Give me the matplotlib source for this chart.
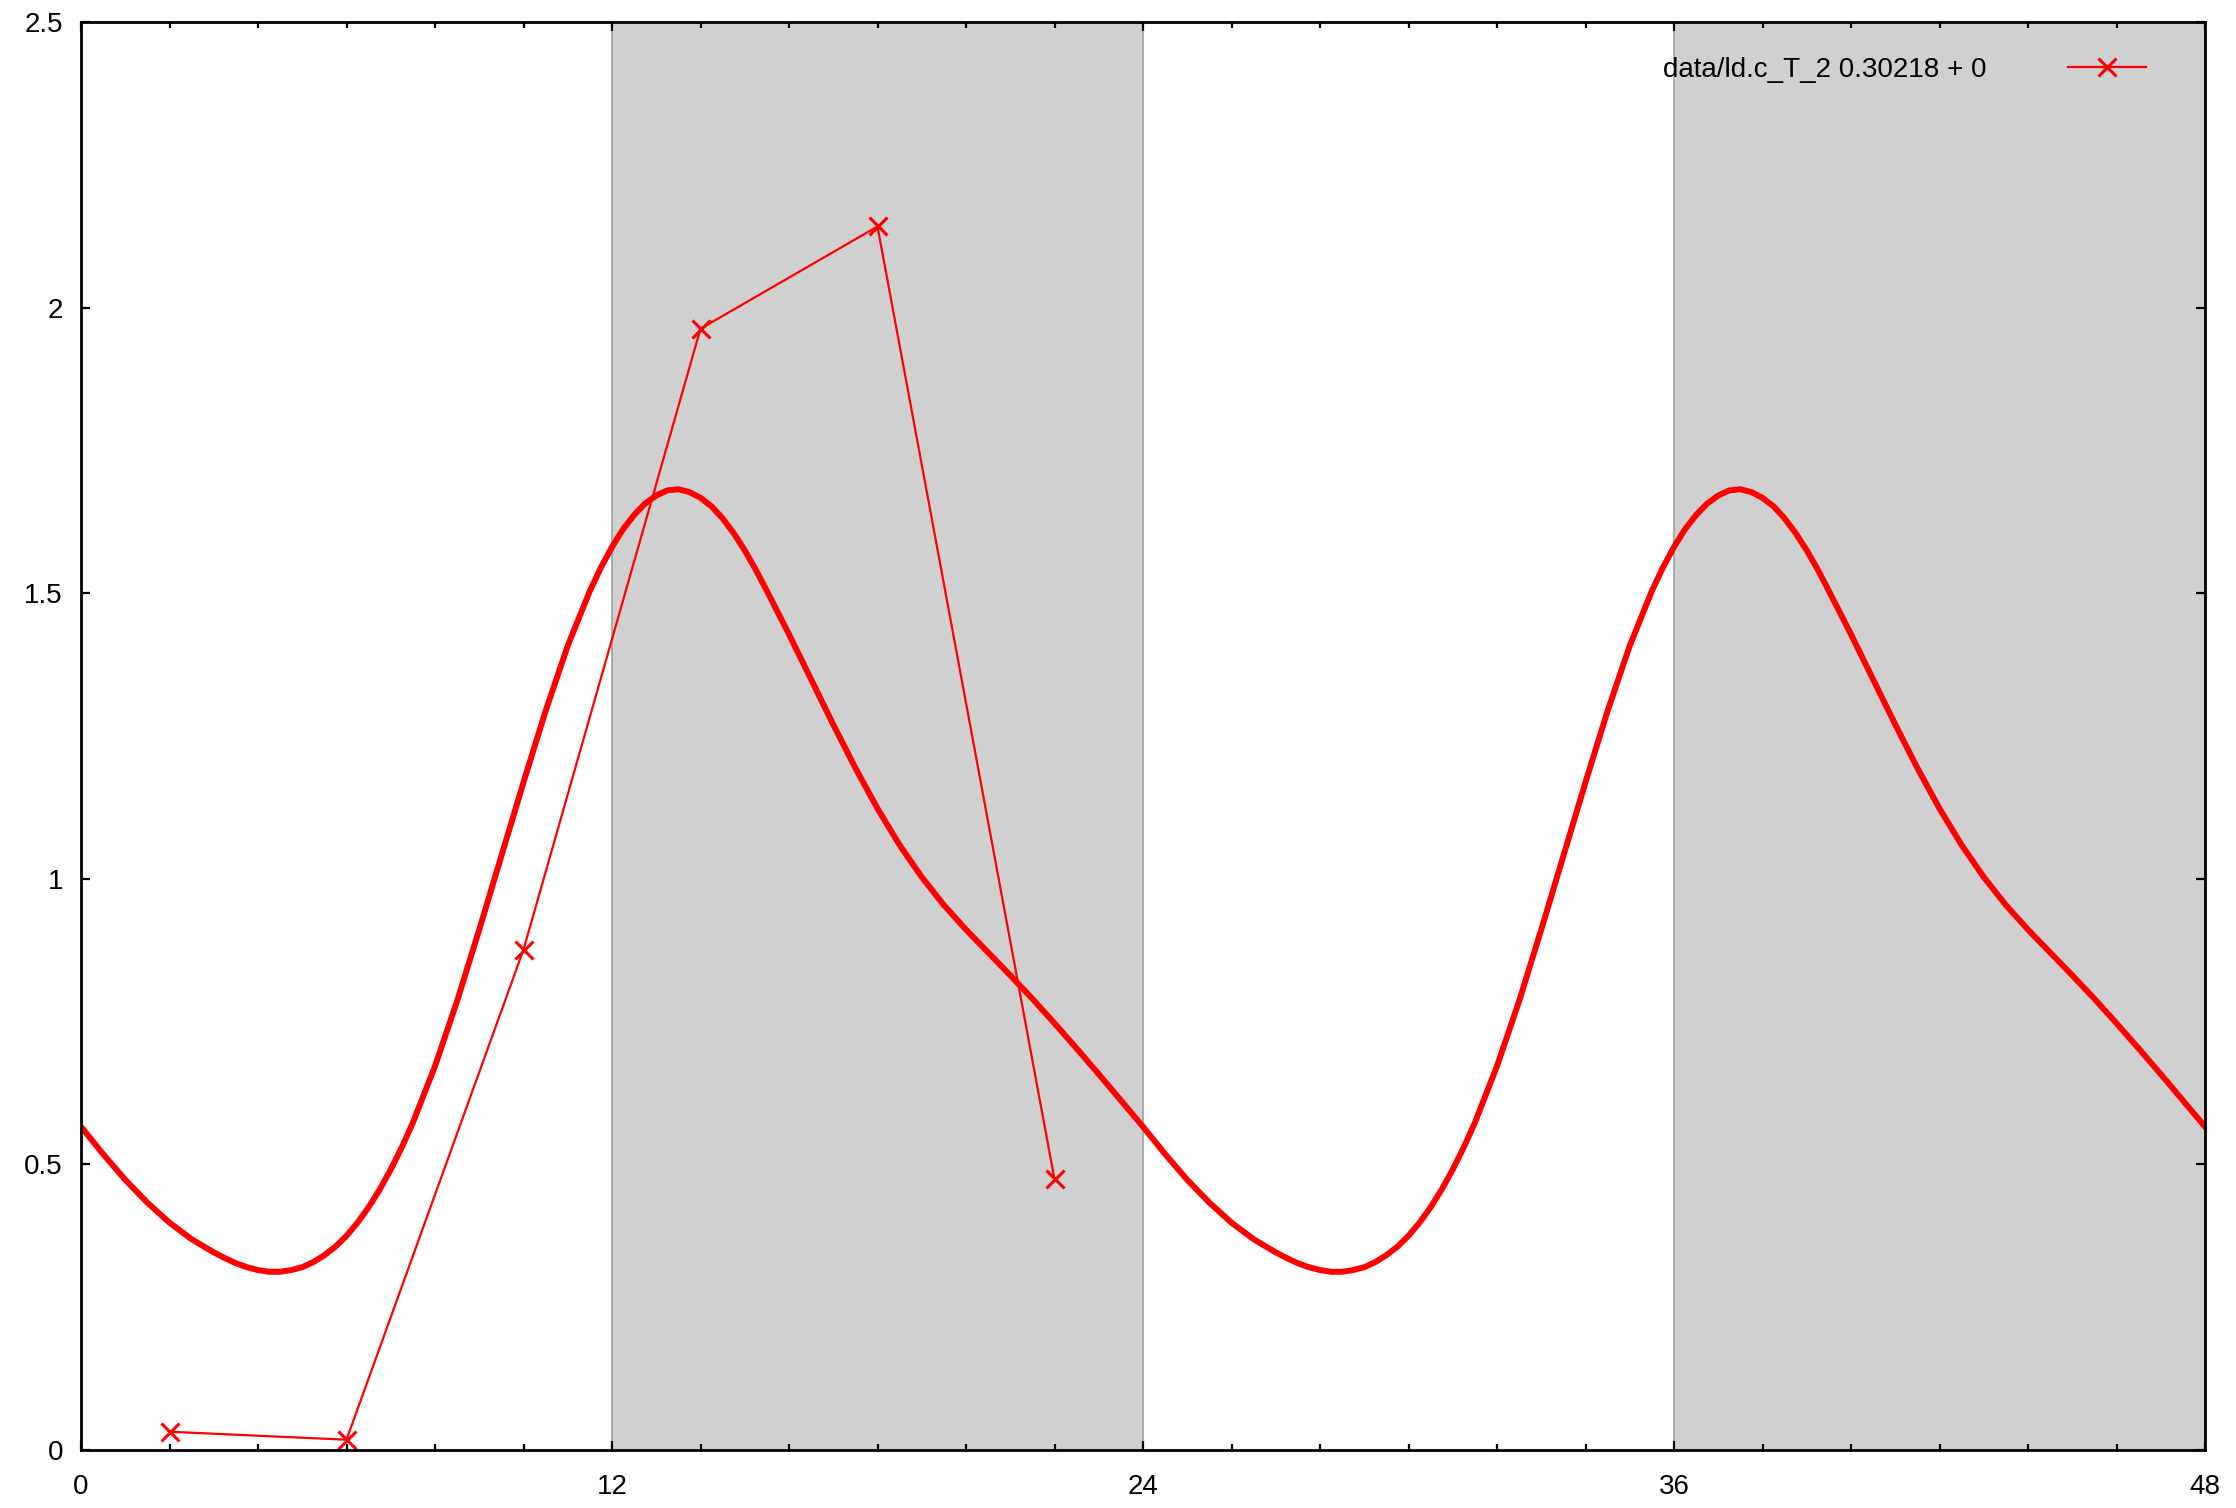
import numpy as np
import matplotlib.pyplot as plt

plt.rcParams['font.family'] = ['Liberation Sans', 'DejaVu Sans']

# fitted curve over one day (closer spacing near the trough and peak);
# the plot repeats the same day for hours 24-48
hours_day = [0, 0.5, 1, 1.5, 2, 2.5,
             3, 3.25, 3.5, 3.75, 4, 4.25, 4.5, 4.75, 5, 5.25, 5.5, 5.75,
             6, 6.25, 6.5, 6.75, 7, 7.25, 7.5,
             8, 8.5, 9, 9.5, 10, 10.5, 11,
             11.5, 11.75, 12, 12.25, 12.5, 12.75, 13, 13.25, 13.5, 13.75,
             14, 14.25, 14.5, 14.75, 15, 15.25, 15.5,
             16, 16.5, 17, 17.5, 18, 18.5, 19, 19.5, 20, 20.5, 21, 21.5,
             22, 22.5, 23, 23.5]
fit_day = [0.566, 0.518, 0.473, 0.433, 0.398, 0.369,
           0.346, 0.336, 0.327, 0.320, 0.315, 0.312, 0.312, 0.315, 0.320, 0.329, 0.341, 0.356,
           0.375, 0.398, 0.425, 0.456, 0.491, 0.530, 0.573,
           0.672, 0.786, 0.911, 1.040, 1.169, 1.294, 1.408,
           1.504, 1.545, 1.581, 1.612, 1.637, 1.657, 1.671, 1.680, 1.682, 1.677,
           1.667, 1.652, 1.631, 1.605, 1.575, 1.541, 1.504,
           1.428, 1.349, 1.270, 1.194, 1.123, 1.059, 1.003, 0.954, 0.911, 0.871, 0.831, 0.790,
           0.747, 0.703, 0.658, 0.612]
fit_x = list(hours_day) + [h + 24 for h in hours_day] + [48]
fit_y = list(fit_day) + list(fit_day) + [0.566]

# measured points
data_x = [2, 6, 10, 14, 18, 22]
data_y = [0.032, 0.018, 0.876, 1.963, 2.142, 0.474]
label = "data/ld.c_T_2 0.30218 + 0"

# dark periods
dark = [(12, 24), (36, 48)]

fig = plt.figure(figsize=(22.36, 15.08), dpi=100)
ax = fig.add_axes([81/2236, 1-1450/1508, 2124/2236, 1428/1508])

for a, b in dark:
    ax.axvspan(a, b, facecolor='#d0d0d0', edgecolor='#a0a0a0', lw=1.2, zorder=0)

ax.plot(fit_x, fit_y, color='#ff0000', lw=4.3, solid_joinstyle='round', zorder=2)
ax.plot(data_x, data_y, color='#ff0000', lw=1.6, marker='x', ms=13, mew=2.2,
        label=label, zorder=3)

ax.set_xlim(0, 48)
ax.set_ylim(0, 2.5)
ax.set_xticks([0, 12, 24, 36, 48])
ax.set_xticks(np.arange(0, 49, 2), minor=True)
ax.set_yticks([0, 0.5, 1, 1.5, 2, 2.5])
ax.set_yticklabels(['0', '0.5', '1', '1.5', '2', '2.5'])
ax.tick_params(which='both', direction='in', top=True, right=True, width=1.6,
               labelsize=20)
ax.tick_params(which='major', length=6.5)
ax.tick_params(which='minor', length=4.5)
ax.tick_params(axis='x', pad=17)
ax.tick_params(axis='y', pad=13)
for s in ax.spines.values():
    s.set_linewidth(2)
    s.set_zorder(5)

ax.legend(loc='center right', bbox_to_anchor=(0.9722, 0.9664), frameon=False,
          markerfirst=False, fontsize=20, handlelength=2.8, handletextpad=2.95,
          borderpad=0, borderaxespad=0)

fig.savefig('out.png', dpi=100)
